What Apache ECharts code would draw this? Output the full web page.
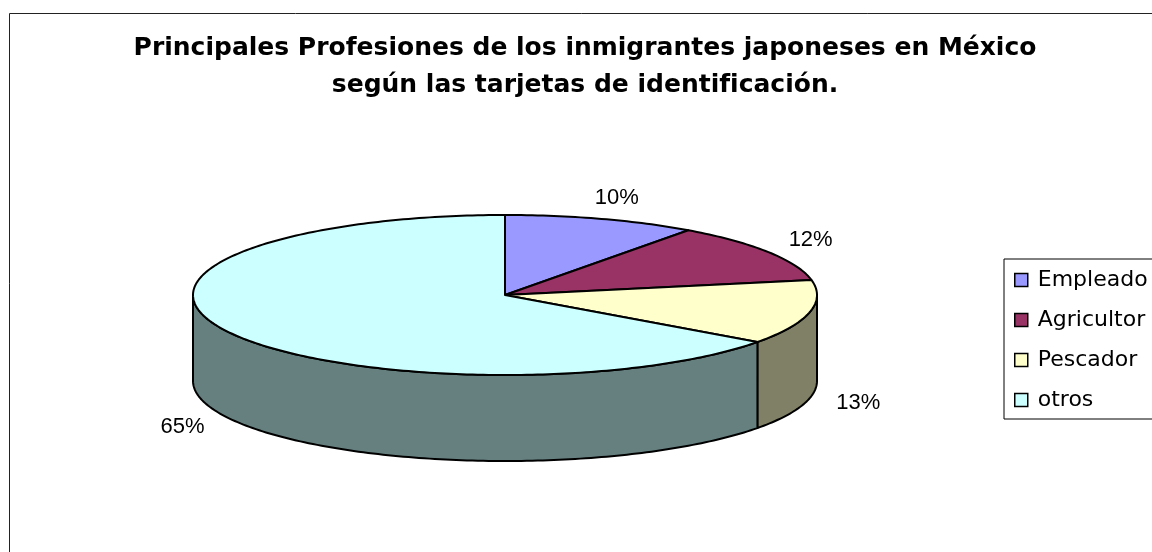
<!DOCTYPE html>
<html lang="es">
<head>
    <meta charset="UTF-8">
    <title>Principales Profesiones</title>
    <script src="https://cdn.jsdelivr.net/npm/echarts@6/dist/echarts.min.js"></script>
    <style>
        html, body { margin: 0; padding: 0; background: #fff; overflow: hidden; }
    </style>
</head>
<body>
    <div id="chart" style="width:1152px;height:552px;"></div>

    <script>
        // datos
        var categories = ['Empleado', 'Agricultor', 'Pescador', 'otros'];
        var values = [10, 12, 13, 65];
        var topColors = ['#9999FF', '#993366', '#FFFFCC', '#CCFFFF'];
        var sideColors = ['#4D4D80', '#4D1A33', '#808066', '#668080'];

        var total = values.reduce(function (a, b) { return a + b; }, 0);

        // geometría del pastel 3D
        var CX = 505, CY = 295, RX = 312, RY = 80, DEPTH = 86;

        function pt(a, dz) {
            return [CX + RX * Math.sin(a), CY - RY * Math.cos(a) + dz];
        }
        function arc(pts, from, to, dz) {
            var n = Math.max(2, Math.ceil(Math.abs(to - from) / (Math.PI / 180)));
            for (var j = 0; j <= n; j++) {
                pts.push(pt(from + (to - from) * j / n, dz));
            }
        }

        function renderSlice(params, api) {
            var i = params.seriesIndex;
            var start = 0;
            for (var k = 0; k < i; k++) start += values[k];
            var v = api.value(0);
            var a1 = start / total * 2 * Math.PI;
            var a2 = (start + v) / total * 2 * Math.PI;
            var children = [];

            // cara lateral (solo la mitad delantera es visible)
            var s = Math.max(a1, Math.PI / 2), e = Math.min(a2, 3 * Math.PI / 2);
            if (e > s) {
                var side = [];
                arc(side, s, e, 0);
                arc(side, e, s, DEPTH);
                children.push({
                    type: 'polygon',
                    shape: { points: side },
                    style: { fill: sideColors[i], stroke: '#000', lineWidth: 2, lineJoin: 'round' }
                });
            }

            // cara superior
            var top = [[CX, CY]];
            arc(top, a1, a2, 0);
            children.push({
                type: 'polygon',
                shape: { points: top },
                style: { fill: topColors[i], stroke: '#000', lineWidth: 2, lineJoin: 'round' }
            });

            // etiqueta de porcentaje
            var mid = (a1 + a2) / 2;
            var lx = CX + Math.sin(mid) * (RX + 50);
            var ly = CY - Math.cos(mid) * (RY + 22) + (Math.cos(mid) < 0 ? DEPTH : 0);
            children.push({
                type: 'text',
                style: {
                    text: Math.round(v / total * 100) + '%',
                    x: lx, y: ly,
                    align: 'center', verticalAlign: 'middle',
                    font: '22px "Liberation Sans", Arial, sans-serif',
                    fill: '#000'
                }
            });

            return { type: 'group', children: children };
        }

        var series = categories.map(function (name, i) {
            return {
                name: name,
                type: 'custom',
                coordinateSystem: 'none',
                renderItem: renderSlice,
                itemStyle: { color: topColors[i] },
                data: [values[i]],
                silent: true
            };
        });

        var chart = echarts.init(document.getElementById('chart'));
        var option = {
            animation: false,
            title: {
                text: 'Principales Profesiones de los inmigrantes japoneses en México\nsegún las tarjetas de identificación.',
                left: 585,
                top: 30,
                padding: 0,
                textAlign: 'center',
                textVerticalAlign: 'top',
                textStyle: {
                    fontFamily: '"DejaVu Sans", sans-serif',
                    fontWeight: 'bold',
                    fontSize: 25,
                    lineHeight: 37,
                    color: '#000'
                }
            },
            legend: {
                orient: 'vertical',
                left: 1004,
                top: 259,
                padding: [10, 60, 8, 10],
                borderColor: '#000',
                borderWidth: 1,
                itemWidth: 13,
                itemHeight: 13,
                itemGap: 18,
                icon: 'rect',
                itemStyle: { borderColor: '#000', borderWidth: 1.5 },
                textStyle: {
                    fontFamily: '"DejaVu Sans", sans-serif',
                    fontSize: 22,
                    lineHeight: 22,
                    padding: [0, 0, 0, 5],
                    color: '#000'
                },
                data: categories
            },
            graphic: [{
                type: 'rect',
                silent: true,
                z: -1,
                shape: { x: 9.5, y: 13.5, width: 1300, height: 700 },
                style: { fill: 'none', stroke: '#222', lineWidth: 1 }
            }],
            series: series
        };
        chart.setOption(option);
    </script>
</body>
</html>
